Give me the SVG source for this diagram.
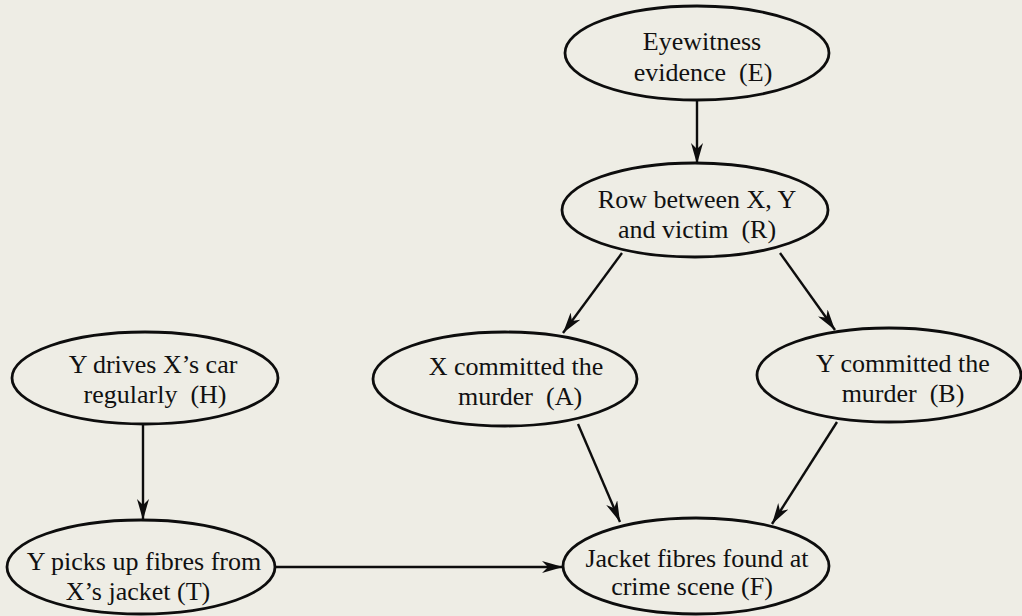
<svg xmlns="http://www.w3.org/2000/svg" width="1022" height="616" viewBox="0 0 1022 616">
<style>
.n ellipse{fill:none;stroke:#0d0d0d;stroke-width:2.8}
.n text{font-family:"Liberation Serif","Times New Roman",serif;font-size:26px;fill:#111;text-anchor:middle;white-space:pre}
.c line{stroke:#0d0d0d;stroke-width:2.4;marker-end:url(#ah)}
</style>
<defs>
<marker id="ah" markerUnits="userSpaceOnUse" markerWidth="22" markerHeight="12" refX="21" refY="6" orient="auto" viewBox="0 0 22 12">
<path d="M0,0 L21,6 L0,12 L6,6 z" fill="#0d0d0d"/>
</marker>
</defs>
<rect width="1022" height="616" fill="#eeede5"/>
<g class="c">
<line x1="697" y1="100" x2="697" y2="164"/>
<line x1="622" y1="253" x2="563" y2="333"/>
<line x1="780" y1="253" x2="835" y2="330"/>
<line x1="578" y1="424" x2="620" y2="522"/>
<line x1="837" y1="422" x2="772" y2="524"/>
<line x1="143" y1="425" x2="143" y2="520"/>
<line x1="275" y1="567" x2="563" y2="567"/>
</g>
<g id="E" class="n"><ellipse cx="697" cy="53" rx="132" ry="47"/><text x="702" y="50">Eyewitness</text><text x="703" y="81">evidence  (E)</text></g>
<g id="R" class="n"><ellipse cx="695" cy="210" rx="133" ry="47"/><text x="697" y="208">Row between X, Y</text><text x="697" y="238">and victim  (R)</text></g>
<g id="H" class="n"><ellipse cx="145" cy="378" rx="133" ry="46"/><text x="153" y="373">Y drives X’s car</text><text x="155" y="403">regularly  (H)</text></g>
<g id="T" class="n"><ellipse cx="141" cy="567" rx="134" ry="47"/><text x="144" y="570">Y picks up fibres from</text><text x="138" y="600">X’s jacket (T)</text></g>
<g id="A" class="n"><ellipse cx="505" cy="379" rx="132" ry="47"/><text x="516" y="375">X committed the</text><text x="520" y="405">murder  (A)</text></g>
<g id="B" class="n"><ellipse cx="889" cy="375" rx="132" ry="47"/><text x="903" y="372">Y committed the</text><text x="903" y="402">murder  (B)</text></g>
<g id="F" class="n"><ellipse cx="696" cy="566" rx="133" ry="48"/><text x="697" y="567">Jacket fibres found at</text><text x="692" y="595">crime scene (F)</text></g>
</svg>
